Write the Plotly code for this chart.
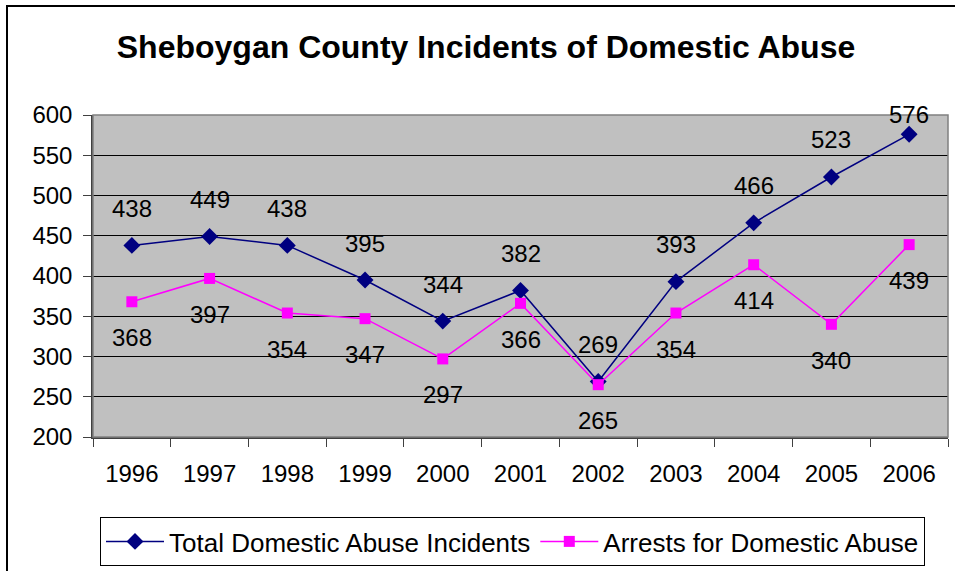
import plotly.graph_objects as go

# Annual figures for Sheboygan County
years = [1996, 1997, 1998, 1999, 2000, 2001, 2002, 2003, 2004, 2005, 2006]
total_incidents = [438, 449, 438, 395, 344, 382, 269, 393, 466, 523, 576]
arrests = [368, 397, 354, 347, 297, 366, 265, 354, 414, 340, 439]

y_ticks = [200, 250, 300, 350, 400, 450, 500, 550, 600]

FONT = "Liberation Sans, Arial, sans-serif"
NAVY = "#000080"
MAGENTA = "#FF00FF"

fig = go.Figure()

fig.add_trace(go.Scatter(
    x=years, y=total_incidents, name="Total Domestic Abuse Incidents",
    mode="lines+markers",
    line=dict(color=NAVY, width=1.5),
    marker=dict(symbol="diamond", size=13, color=NAVY),
    cliponaxis=False,
))
fig.add_trace(go.Scatter(
    x=years, y=arrests, name="Arrests for Domestic Abuse",
    mode="lines+markers",
    line=dict(color=MAGENTA, width=1.5),
    marker=dict(symbol="square", size=11, color=MAGENTA),
    cliponaxis=False,
))

# Value labels: totals above their points, arrests below
annotations = []
for yr, v in zip(years, total_incidents):
    shift = 37 if v < 560 else 20
    annotations.append(dict(x=yr, y=v, text=str(v), showarrow=False, yshift=shift,
                            font=dict(family=FONT, size=24, color="black")))
for yr, v in zip(years, arrests):
    annotations.append(dict(x=yr, y=v, text=str(v), showarrow=False, yshift=-36,
                            font=dict(family=FONT, size=24, color="black")))

# category boundaries for the x-axis tick marks
boundaries = [y - 0.5 for y in years] + [years[-1] + 0.5]

fig.update_layout(
    width=955, height=571,
    margin=dict(l=93, r=7, t=115, b=134, autoexpand=False),
    paper_bgcolor="white",
    plot_bgcolor="#C0C0C0",
    font=dict(family=FONT, size=24, color="black"),
    title=dict(text="<b>Sheboygan County Incidents of Domestic Abuse</b>",
               x=(486 - 93) / 855, xref="paper", xanchor="center", y=1 - 47 / 571, yanchor="middle",
               font=dict(family=FONT, size=32, color="black")),
    showlegend=True,
    legend=dict(orientation="h", x=(100 - 93) / 855, xanchor="left",
                y=(437 - 566) / 322, yanchor="bottom",
                bordercolor="black", borderwidth=1, bgcolor="white",
                font=dict(family=FONT, size=26), itemwidth=58),
    annotations=annotations,
    shapes=[
        # outer chart frame
        dict(type="rect", xref="paper", yref="paper",
             x0=(7 - 93) / 855, x1=1.2, y0=-1, y1=(437 - 6) / 322,
             line=dict(color="black", width=2), fillcolor="rgba(0,0,0,0)", layer="below"),
        # plot area border
        dict(type="rect", xref="paper", yref="paper", x0=0, x1=1, y0=0, y1=1,
             line=dict(color="#808080", width=1.5), fillcolor="rgba(0,0,0,0)"),
    ],
)

fig.update_xaxes(
    range=[years[0] - 0.5, years[-1] + 0.5], tickvals=years, ticktext=[str(y) for y in years],
    showgrid=False, showline=True, linecolor="#404040", linewidth=1.5,
    ticks="", tickfont=dict(family=FONT, size=24), zeroline=False,
    ticklabelstandoff=14,
    minor=dict(tickvals=boundaries, ticks="outside", ticklen=8, tickcolor="#404040", showgrid=False),
)
fig.update_yaxes(
    range=[200, 600], tickvals=y_ticks, showgrid=True, gridcolor="black", gridwidth=1,
    showline=True, linecolor="#404040", linewidth=1.5,
    ticks="outside", ticklen=8, tickcolor="#404040",
    tickfont=dict(family=FONT, size=24), zeroline=False,
    ticklabelstandoff=6,
)

fig.write_html("out.html")
